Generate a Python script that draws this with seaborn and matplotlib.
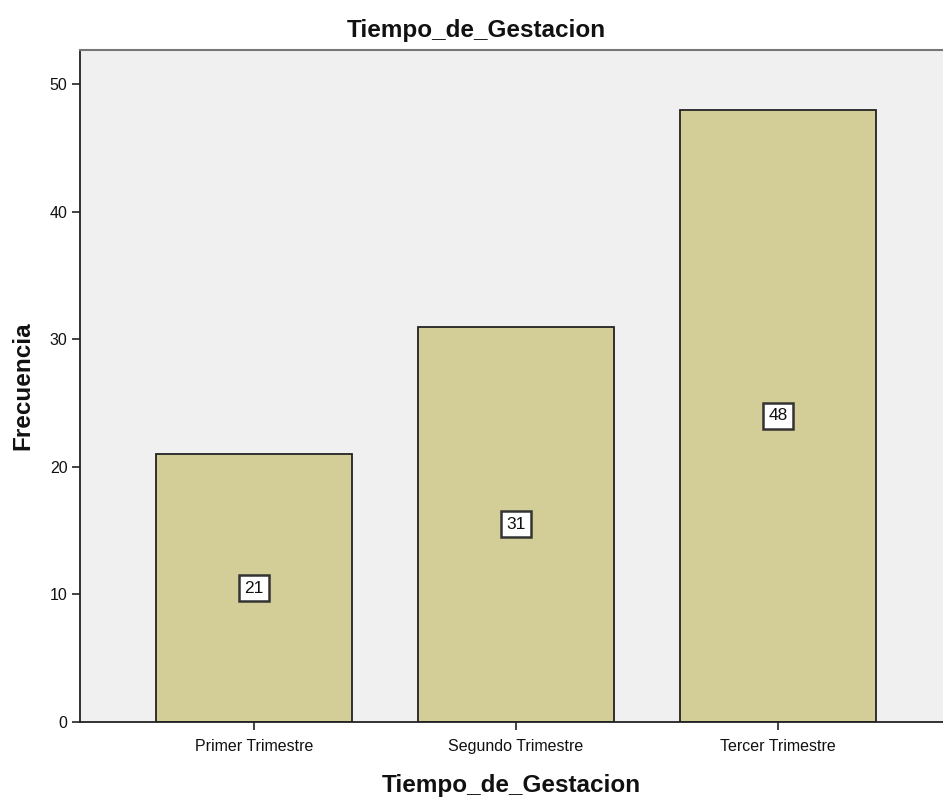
import matplotlib
matplotlib.use("Agg")
import matplotlib.pyplot as plt
import seaborn as sns

# ——— Data ———
categories = ["Primer Trimestre", "Segundo Trimestre", "Tercer Trimestre"]
frecuencias = [21, 31, 48]
y_ticks = [0, 10, 20, 30, 40, 50]

# ——— Style ———
bar_color = "#D3CE97"
bg_color = "#F0F0F0"

sns.set_style("white")
plt.rcParams["font.family"] = ["Liberation Sans", "DejaVu Sans"]

fig = plt.figure(figsize=(9.43, 7.99), dpi=100)
ax = fig.add_axes([0.0848, 0.0964, 0.9152, 0.841])
ax.set_facecolor(bg_color)

sns.barplot(x=categories, y=frecuencias, color=bar_color,
            width=0.745, edgecolor="#222222", linewidth=1.3,
            saturation=1, ax=ax)

# value labels in white boxes at mid-height
for i, v in enumerate(frecuencias):
    ax.text(i, v / 2, str(v), ha="center", va="center", fontsize=12.5,
            color="#111111",
            bbox=dict(boxstyle="square,pad=0.32", facecolor="white",
                      edgecolor="#333333", linewidth=1.8))

ax.set_xlim(-0.664, 2.63)
ax.set_ylim(0, 52.7)
ax.set_yticks(y_ticks)

for side in ["left", "bottom"]:
    ax.spines[side].set_color("#222222")
    ax.spines[side].set_linewidth(1.3)
ax.spines["top"].set_color("#777777")
ax.spines["top"].set_linewidth(1.5)
ax.spines["right"].set_visible(False)

ax.tick_params(axis="both", direction="out", length=6, width=1.2,
               color="#222222", labelsize=11.5, labelcolor="#111111",
               bottom=True, left=True)
ax.tick_params(axis="x", pad=6)
ax.tick_params(axis="y", pad=3)

fig.text(476 / 943, 1 - 31 / 799, "Tiempo_de_Gestacion", fontsize=17.5,
         fontweight="bold", ha="center", va="center", color="#111111")
ax.set_xlabel("Tiempo_de_Gestacion", fontsize=17.5, fontweight="bold",
              labelpad=15, color="#111111")
ax.set_ylabel("Frecuencia", fontsize=17.5, fontweight="bold",
              labelpad=11, color="#111111")

fig.savefig("out.png", dpi=100)
plt.close(fig)
